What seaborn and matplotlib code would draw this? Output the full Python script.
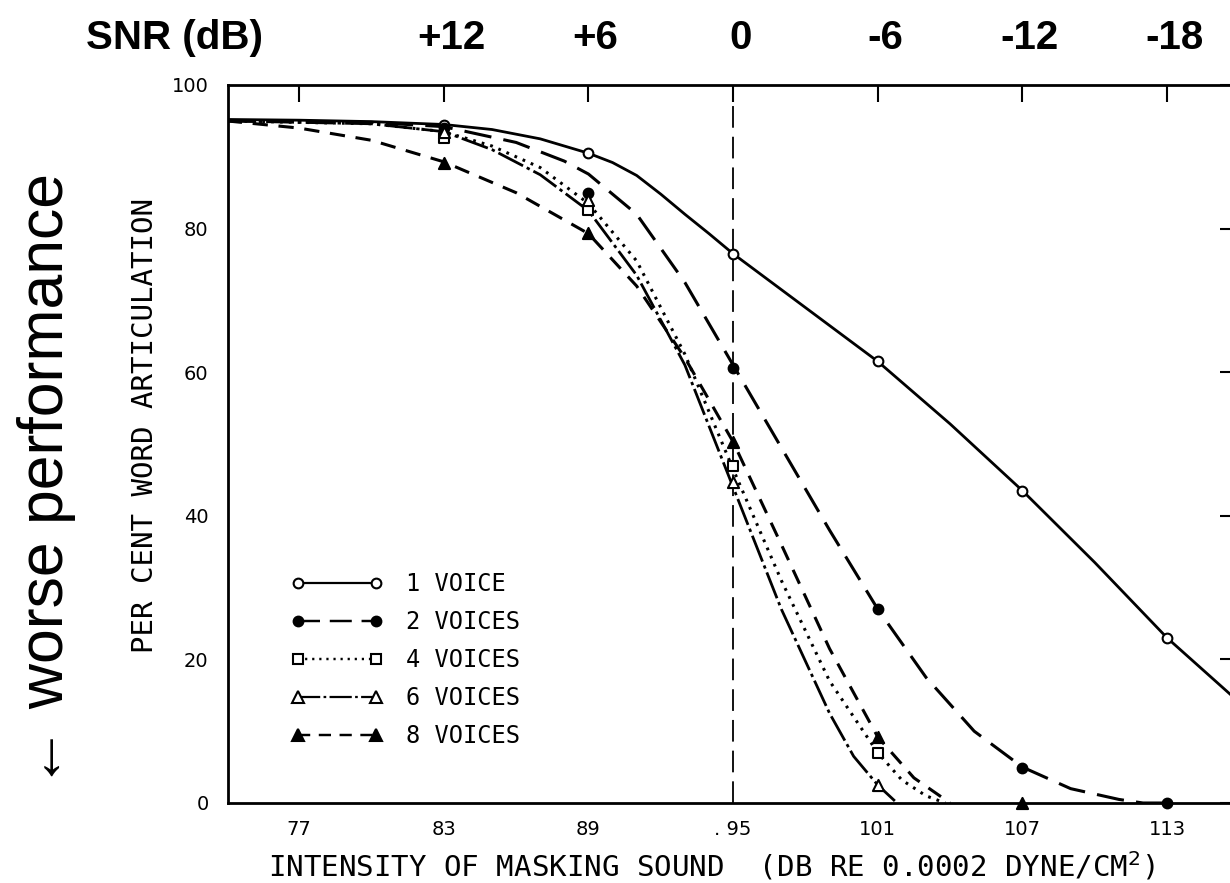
import matplotlib
matplotlib.use("Agg")
import matplotlib.pyplot as plt
import matplotlib.transforms as mtransforms
from matplotlib.lines import Line2D
import pandas as pd
import seaborn as sns

# ---- data: smoothed articulation curves (percent vs. masking intensity, dB) ----
curve_x_1 = [74, 77, 80, 83, 85, 87, 89, 90, 91, 92, 93, 94, 95, 98, 101, 104, 107, 110, 113, 116]
curve_y_1 = [95.2, 95.1, 94.9, 94.5, 93.8, 92.5, 90.5, 89.2, 87.4, 84.8, 82.0, 79.3, 76.5,
             69.0, 61.5, 52.8, 43.5, 33.5, 23.0, 14.0]

curve_x_2 = [74, 80, 83, 86, 88, 89, 91, 93, 95, 97, 99, 101, 103, 105, 107, 109, 111, 112, 113]
curve_y_2 = [95.0, 94.8, 94.2, 92.0, 89.4, 87.6, 82.0, 72.5, 61.0, 49.5, 38.0, 27.0, 17.5, 10.0, 5.0, 2.0, 0.5, 0.0, 0.0]

curve_x_4 = [74, 80, 83, 85, 87, 89, 91, 93, 95, 97, 99, 101, 102, 103, 103.8]
curve_y_4 = [95.0, 94.6, 93.5, 91.5, 88.5, 83.5, 75.5, 62.5, 46.5, 31.0, 17.0, 7.0, 3.2, 1.0, 0.0]

curve_x_6 = [74, 80, 83, 85, 87, 89, 91, 93, 95, 97, 99, 100, 101, 101.8]
curve_y_6 = [95.0, 94.6, 93.5, 91.0, 87.5, 82.5, 73.5, 61.0, 44.0, 27.0, 12.5, 6.5, 2.5, 0.0]

curve_x_8 = [74, 77, 80, 83, 86, 89, 91, 93, 95, 97, 99, 101, 102.5, 104]
curve_y_8 = [95.0, 94.0, 92.3, 89.3, 85.0, 79.3, 72.0, 62.0, 50.3, 36.0, 21.5, 9.2, 3.5, 0.0]

# measured points
pts_x_1 = [83, 89, 95, 101, 107, 113]
pts_y_1 = [94.4, 90.5, 76.5, 61.5, 43.5, 23.0]
pts_x_2 = [83, 89, 95, 101, 107, 113]
pts_y_2 = [94.0, 85.0, 60.6, 27.0, 4.9, 0.0]
pts_x_4 = [83, 89, 95, 101]
pts_y_4 = [92.6, 82.6, 47.0, 7.0]
pts_x_6 = [83, 89, 95, 101]
pts_y_6 = [93.4, 84.0, 44.7, 2.5]
pts_x_8 = [83, 89, 95, 101, 107]
pts_y_8 = [89.2, 79.4, 50.3, 9.2, 0.0]

series_labels = ["1 VOICE", "2 VOICES", "4 VOICES", "6 VOICES", "8 VOICES"]

x_ticks = [77, 83, 89, 95, 101, 107, 113]
x_tick_labels = ["77", "83", "89", ". 95", "101", "107", "113"]
y_ticks = [0, 20, 40, 60, 80, 100]

snr_positions = [83, 89, 95, 101, 107, 113]
snr_labels = ["+12", "+6", "0", "-6", "-12", "-18"]

# ---- styles ----
styles = [
    dict(dashes=None, lw=2.0, marker="o", filled=False, ms=7),
    dict(dashes=(9, 4), lw=2.2, marker="o", filled=True, ms=7),
    dict(dashes=(0.9, 2.0), lw=2.2, marker="s", filled=False, ms=7),
    dict(dashes=(10, 1.5, 1.2, 1.5), lw=2.0, marker="^", filled=False, ms=8),
    dict(dashes=(5, 3.5), lw=2.2, marker="^", filled=True, ms=8),
]

curves = [(curve_x_1, curve_y_1), (curve_x_2, curve_y_2), (curve_x_4, curve_y_4),
          (curve_x_6, curve_y_6), (curve_x_8, curve_y_8)]
points = [(pts_x_1, pts_y_1), (pts_x_2, pts_y_2), (pts_x_4, pts_y_4),
          (pts_x_6, pts_y_6), (pts_x_8, pts_y_8)]

sns.set_theme(style="white")
plt.rcParams["font.family"] = ["DejaVu Sans"]
plt.rcParams.update({"text.color": "black", "axes.labelcolor": "black",
                     "xtick.color": "black", "ytick.color": "black"})

fig = plt.figure(figsize=(12.3, 8.83), dpi=100)
ax = fig.add_axes([228 / 1230, 80 / 883, 1009 / 1230, 718 / 883])

mono = ["DejaVu Sans Mono", "DejaVu Sans"]

for (cx, cy), (px, py), st, lab in zip(curves, points, styles, series_labels):
    df_c = pd.DataFrame({"x": cx, "y": cy})
    sns.lineplot(data=df_c, x="x", y="y", ax=ax, color="black", lw=st["lw"],
                 estimator=None, sort=False, zorder=3)
    line = ax.lines[-1]
    if st["dashes"] is not None:
        line.set_dashes(st["dashes"])
    df_p = pd.DataFrame({"x": px, "y": py})
    sns.scatterplot(data=df_p, x="x", y="y", ax=ax, marker=st["marker"],
                    s=st["ms"] ** 2,
                    color="black" if st["filled"] else "white",
                    edgecolor="black", linewidth=1.5, zorder=4, clip_on=False)

# reference line at 0 dB SNR
ax.axvline(95, color="black", lw=1.3, dashes=(12, 5), zorder=2)

ax.set_xlim(74.05, 115.9)
ax.set_ylim(0, 100)
ax.set_xticks(x_ticks)
ax.set_xticklabels(x_tick_labels)
ax.set_yticks(y_ticks)
ax.tick_params(direction="in", length=12, width=1.5, top=True, right=True,
               labelsize=14, colors="black")
ax.tick_params(axis="x", pad=12)
ax.tick_params(axis="y", pad=14)
for sp in ax.spines.values():
    sp.set_color("black")
    sp.set_linewidth(2.0)

ax.set_xlabel("INTENSITY OF MASKING SOUND  (DB RE 0.0002 DYNE/CM$^2$)",
              family=mono, fontsize=21)
ax.xaxis.set_label_coords(0.479, -0.065)
ax.set_ylabel("PER CENT WORD ARTICULATION", family=mono, fontsize=21)
ax.yaxis.set_label_coords(-0.068, 0.526)

# legend with markers at both ends of each sample line
handles = []
for st, lab in zip(styles, series_labels):
    h = Line2D([0], [0], color="black", lw=st["lw"] * 0.8, marker=st["marker"],
               markersize=st["ms"], markerfacecolor="black" if st["filled"] else "white",
               markeredgecolor="black", markeredgewidth=1.5, label=lab)
    if st["dashes"] is not None:
        h.set_dashes(st["dashes"])
    handles.append(h)
ax.legend(handles=handles, loc="upper left", bbox_to_anchor=(0.062, 0.322),
          frameon=False, numpoints=2, handlelength=3.9, handletextpad=1.0,
          labelspacing=0.6, borderpad=0, borderaxespad=0,
          prop={"family": mono, "size": 17})

# SNR scale along the top
blend = mtransforms.blended_transform_factory(ax.transData, fig.transFigure)
for xp, lab in zip(snr_positions, snr_labels):
    fig.text(xp + 0.3, 0.957, lab, transform=blend, ha="center", va="center",
             fontsize=29, fontweight="bold", family=["Liberation Sans", "DejaVu Sans"])
fig.text(175 / 1230, 0.957, "SNR (dB)", ha="center", va="center",
         fontsize=29, fontweight="bold", family=["Liberation Sans", "DejaVu Sans"])

fig.text(47 / 1230, 1 - 480 / 883, "\u2190 worse performance", rotation=90,
         ha="center", va="center", fontsize=45,
         family=["Liberation Sans", "DejaVu Sans"])

fig.savefig("out.png", dpi=100)
